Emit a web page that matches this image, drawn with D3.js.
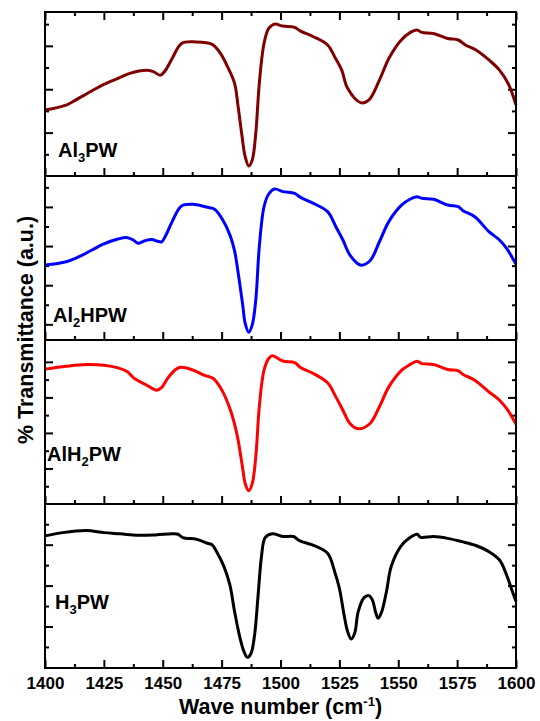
<!DOCTYPE html>
<html>
<head>
<meta charset="utf-8">
<script src="https://cdn.jsdelivr.net/npm/d3@7"></script>
<style>
	body { margin:0; background:#fff; }
	svg { display:block; font-family:'Liberation Sans', Arial, sans-serif; font-weight:bold; }
</style>
</head>
<body>
<div id="chart"></div>
<script>
// wave numbers (cm-1) and transmittance (a.u.)
var al3pwWave = [1400,1409,1413,1420,1425,1431,1436,1443,1446,1449,1451,1454,1458,1464,1471,1474.5,1477.5,1480.5,1482,1483.5,1485,1486.5,1488,1489.5,1491,1493,1495,1497.5,1501,1506,1508.5,1514,1520,1523,1526,1528.5,1534,1537.5,1542,1546,1551,1555,1558,1560,1565,1571,1575.5,1578.5,1583,1588.5,1593,1597,1600];
var al3pwT = [3.04,3.27,3.50,3.93,4.22,4.50,4.73,4.87,4.81,4.65,4.85,5.42,6.11,6.18,6.07,5.65,5.04,4.27,3.20,1.97,0.89,0.46,0.74,1.97,4.27,6.11,6.80,7.00,6.91,6.85,6.68,6.42,6.04,5.50,4.88,4.04,3.38,3.50,4.42,5.42,6.24,6.61,6.73,6.62,6.57,6.34,6.27,6.04,5.81,5.35,4.88,4.19,3.27];

var al2hpwWave = [1400,1409,1415,1420,1425,1431,1435,1437.5,1439.5,1442.5,1445.5,1447.5,1449.5,1451,1454,1458,1463.5,1469,1472,1475.5,1478.5,1480.5,1482,1484,1485,1486.5,1488,1489.5,1491,1493,1495,1497.5,1501,1506,1508.5,1514,1520,1523.5,1526.5,1529.5,1534,1538,1542,1546,1551.5,1555,1558,1560,1565,1571,1575.5,1577.5,1582.5,1588.5,1593,1596,1600];
var al2hpwT = [4.03,4.20,4.49,4.80,5.11,5.36,5.43,5.31,5.14,5.28,5.34,5.26,5.22,5.48,6.25,7.05,7.13,6.98,6.88,6.33,5.57,4.75,3.65,1.95,1.05,0.59,0.97,2.24,4.97,7.01,7.66,7.92,7.78,7.69,7.49,7.18,6.76,5.99,5.31,4.54,4.03,4.25,5.22,6.25,7.10,7.39,7.52,7.44,7.39,7.10,7.01,6.81,6.50,5.74,5.31,4.88,4.07];

var alh2pwWave = [1400,1409,1417.5,1425,1431,1435,1438,1442.5,1447.5,1449.5,1452.5,1457,1463,1467.5,1471.5,1475.5,1478.5,1480.5,1482,1484,1485,1486.5,1488,1489.5,1491,1493,1495,1496.5,1501,1506,1508.5,1514,1520,1523.5,1526.5,1529.5,1533,1538,1542,1546,1551.5,1555,1558,1560,1565,1571,1575.5,1577.5,1582.5,1588.5,1593,1596.5,1600];
var alh2pwT = [7.59,7.75,7.85,7.81,7.66,7.44,7.06,6.74,6.40,6.55,7.15,7.68,7.53,7.25,7.06,6.31,5.37,4.50,3.60,1.95,1.15,0.74,1.15,2.65,5.47,7.53,8.19,8.34,8.05,7.96,7.68,7.34,6.82,6.03,5.28,4.53,4.23,4.53,5.47,6.59,7.53,7.85,8.04,7.90,7.85,7.57,7.49,7.29,6.97,6.31,5.84,5.28,4.49];

var h3pwWave = [1400,1407.5,1417.5,1425,1432,1439.5,1447,1454,1456.5,1458.5,1464.5,1469,1471,1473,1476,1478.5,1480.5,1482.5,1484.5,1486,1487.5,1489,1490.5,1492,1493.5,1496.5,1501,1505.5,1508,1513.5,1520,1523,1525,1527,1528.5,1530,1531.5,1533,1535.5,1537.5,1539,1540.5,1541.5,1543,1545,1547,1551,1555,1558,1559.5,1565,1571,1577,1583,1588.5,1593,1596,1598,1600];
var h3pwT = [6.43,6.59,6.69,6.59,6.53,6.46,6.48,6.53,6.51,6.35,6.26,6.07,5.99,5.63,4.93,4.03,2.73,1.59,0.77,0.49,0.69,1.59,3.54,5.50,6.35,6.53,6.40,6.40,6.20,5.99,5.58,4.68,3.87,2.56,1.75,1.39,1.67,2.73,3.41,3.51,3.30,2.65,2.40,2.73,3.71,4.93,5.91,6.35,6.51,6.36,6.40,6.31,6.15,5.96,5.66,5.25,4.52,3.87,3.22];

var sampleNames = [['Al','3','PW'], ['Al','2','HPW'], ['AlH','2','PW'], ['H','3','PW']];
var sampleColors = ['#800000', '#0000ff', '#ff0000', '#000000'];
var xMajorTicks = [1400,1425,1450,1475,1500,1525,1550,1575,1600];
var xMinorTicks = [1412.5,1437.5,1462.5,1487.5,1512.5,1537.5,1562.5,1587.5];
var yDomains = [[0,7.56], [0.2,8.58], [0,9.23], [-0.03,7.99]];
var yMajorTicks = [[2,4,6], [1,3,5,7], [2,4,6,8], [2,4,6]];
var yMinorTicks = [[1,3,5,7], [2,4,6,8], [1,3,5,7], [1,3,5,7]];

var spectraChart = {
	width : 540,
	height : 721,
	left : 45,
	right : 516,
	top : 12,
	panelH : 164,
	svg : null,
	x : null,
	init : function(elem){
		this.svg = d3.select(elem).append('svg')
			.attr('width', this.width)
			.attr('height', this.height);
		this.svg.append('rect').attr('width', this.width).attr('height', this.height).attr('fill', '#fff');

		this.x = d3.scaleLinear().domain([1400, 1600]).range([this.left, this.right]);

		var series = [
			{ wave : al3pwWave, t : al3pwT },
			{ wave : al2hpwWave, t : al2hpwT },
			{ wave : alh2pwWave, t : alh2pwT },
			{ wave : h3pwWave, t : h3pwT }
		];
		for(var i = 0; i < series.length; i++){
			this.drawPanel(i, series[i]);
		}
		this.drawTitles();
	},
	drawPanel : function(i, s){
		var _self = this;
		var y0 = this.top + i * this.panelH;
		var y1 = y0 + this.panelH;
		var y = d3.scaleLinear().domain(yDomains[i]).range([y1, y0]);
		var g = this.svg.append('g').attr('class', 'panel');

		//ticks, all pointing inwards
		var tickGroup = function(axis, tx, ty){
			var a = g.append('g').attr('transform', 'translate(' + tx + ',' + ty + ')').call(axis);
			a.select('.domain').remove();
			a.selectAll('line').attr('stroke', '#000').attr('stroke-width', 2);
			return a;
		};
		tickGroup(d3.axisLeft(y).tickValues(yMajorTicks[i]).tickSize(-8).tickFormat(''), this.left, 0);
		tickGroup(d3.axisLeft(y).tickValues(yMinorTicks[i]).tickSize(-4).tickFormat(''), this.left, 0);
		tickGroup(d3.axisRight(y).tickValues(yMajorTicks[i]).tickSize(-8).tickFormat(''), this.right, 0);
		tickGroup(d3.axisRight(y).tickValues(yMinorTicks[i]).tickSize(-4).tickFormat(''), this.right, 0);

		var isLast = (i === 3);
		var bottomMajor = tickGroup(d3.axisBottom(this.x).tickValues(xMajorTicks).tickSize(-8)
			.tickPadding(9).tickFormat(isLast ? d3.format('d') : ''), 0, y1);
		tickGroup(d3.axisBottom(this.x).tickValues(xMinorTicks).tickSize(-4).tickFormat(''), 0, y1);
		if(isLast){
			bottomMajor.selectAll('text')
				.attr('fill', '#000')
				.style('font-size', '17px')
				.style('font-weight', 'bold')
				.style('font-family', "'Liberation Sans', Arial, sans-serif");
		}
		if(i === 0){
			tickGroup(d3.axisTop(this.x).tickValues(xMajorTicks).tickSize(-8).tickFormat(''), 0, y0);
			tickGroup(d3.axisTop(this.x).tickValues(xMinorTicks).tickSize(-4).tickFormat(''), 0, y0);
		}

		//the spectrum
		var pts = s.wave.map(function(w, k){ return [w, s.t[k]]; });
		var line = d3.line()
			.x(function(d){ return _self.x(d[0]); })
			.y(function(d){ return y(d[1]); })
			.curve(d3.curveCatmullRom.alpha(0.5));
		g.append('path')
			.datum(pts)
			.attr('d', line)
			.attr('fill', 'none')
			.attr('stroke', sampleColors[i])
			.attr('stroke-width', 3)
			.attr('stroke-linejoin', 'round');

		//frame
		g.append('rect')
			.attr('x', this.left).attr('y', y0)
			.attr('width', this.right - this.left).attr('height', this.panelH)
			.attr('fill', 'none').attr('stroke', '#000').attr('stroke-width', 2);

		//sample label
		var labelPos = [[58,157], [53,322], [47,461], [55,609]];
		var name = sampleNames[i];
		var txt = g.append('text')
			.attr('x', labelPos[i][0]).attr('y', labelPos[i][1])
			.style('font-size', '20px');
		txt.append('tspan').text(name[0]);
		txt.append('tspan').attr('dy', 5).style('font-size', '13px').text(name[1]);
		txt.append('tspan').attr('dy', -5).text(name[2]);
	},
	drawTitles : function(){
		var xt = this.svg.append('text')
			.attr('x', (this.left + this.right) / 2)
			.attr('y', 714)
			.attr('text-anchor', 'middle')
			.style('font-size', '21.5px');
		xt.append('tspan').text('Wave number (cm');
		xt.append('tspan').attr('dy', -8).style('font-size', '13px').text('-1');
		xt.append('tspan').attr('dy', 8).text(')');

		this.svg.append('text')
			.attr('transform', 'translate(33,330) rotate(-90)')
			.attr('text-anchor', 'middle')
			.style('font-size', '21.5px')
			.text('% Transmittance (a.u.)');
	}
};

spectraChart.init('#chart');
</script>
</body>
</html>
